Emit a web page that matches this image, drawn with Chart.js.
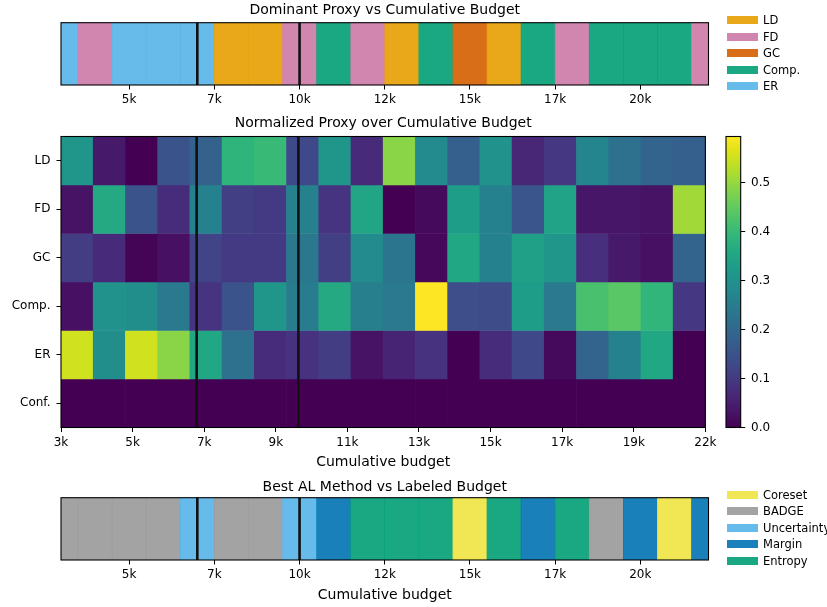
<!DOCTYPE html>
<html>
<head>
<meta charset="utf-8">
<script src="https://cdn.jsdelivr.net/npm/chart.js@4.4.1/dist/chart.umd.min.js"></script>
<style>
  html, body { margin: 0; padding: 0; background: #fff; }
  #fig { position: relative; width: 827px; height: 607px; overflow: hidden; font-family: 'DejaVu Sans', sans-serif; }
  #fig canvas { position: absolute; }
  .lg-swatch { position: absolute; left: 727px; width: 31px; height: 8px; }
  .lg-text { position: absolute; left: 763px; font-size: 11.5px; line-height: 14px; color: #000; white-space: nowrap; }
</style>
</head>
<body>
<div id="fig">
  <canvas id="proxyStrip" width="720" height="112" style="left:0;top:0"></canvas>
  <canvas id="heat" width="720" height="365" style="left:0;top:110px"></canvas>
  <canvas id="cbar" width="127" height="365" style="left:700px;top:110px"></canvas>
  <canvas id="methodStrip" width="720" height="137" style="left:0;top:470px"></canvas>
  <div id="legendTop"></div>
  <div id="legendBottom"></div>
</div>
<script>
// ---- data ----
const rowNames = ['LD', 'FD', 'GC', 'Comp.', 'ER', 'Conf.'];

// normalized proxy per budget column (20 columns spanning 3k..22k)
const heatLD   = [0.31, 0.04, 0.00, 0.15, 0.185, 0.385, 0.40, 0.13, 0.31, 0.07, 0.49, 0.28, 0.18, 0.30, 0.065, 0.095, 0.27, 0.22, 0.19, 0.18];
const heatFD   = [0.03, 0.36, 0.15, 0.075, 0.26, 0.11, 0.10, 0.26, 0.09, 0.35, 0.00, 0.015, 0.33, 0.26, 0.155, 0.345, 0.035, 0.035, 0.03, 0.51];
const heatGC   = [0.105, 0.07, 0.006, 0.025, 0.12, 0.10, 0.10, 0.235, 0.11, 0.28, 0.23, 0.012, 0.355, 0.26, 0.34, 0.31, 0.08, 0.04, 0.025, 0.19];
const heatComp = [0.025, 0.30, 0.29, 0.24, 0.09, 0.15, 0.31, 0.245, 0.36, 0.255, 0.24, 0.594, 0.14, 0.135, 0.33, 0.24, 0.42, 0.44, 0.39, 0.095];
const heatER   = [0.55, 0.29, 0.55, 0.49, 0.355, 0.22, 0.075, 0.085, 0.105, 0.03, 0.06, 0.085, 0.00, 0.075, 0.13, 0.015, 0.19, 0.26, 0.355, 0.00];
const heatConf = [0, 0, 0, 0, 0, 0, 0, 0, 0, 0, 0, 0, 0, 0, 0, 0, 0, 0, 0, 0];
const heatRange = [3000, 22000];
const heatTickLabels = ['3k', '5k', '7k', '9k', '11k', '13k', '15k', '17k', '19k', '22k'];
const cbarTicks = [0.0, 0.1, 0.2, 0.3, 0.4, 0.5];

// strips: one entry per labeled budget
const stripBudgets = [3000, 4000, 5000, 6000, 7000, 8000, 9000, 10000, 11000, 12000,
                      13000, 14000, 15000, 16000, 17000, 18000, 19000, 20000, 21000, 22000];
const dominantProxy = ['ER', 'FD', 'ER', 'ER', 'ER', 'LD', 'LD', 'FD', 'Comp.', 'FD',
                       'LD', 'Comp.', 'GC', 'LD', 'Comp.', 'FD', 'Comp.', 'Comp.', 'Comp.', 'FD'];
const bestMethod = ['BADGE', 'BADGE', 'BADGE', 'BADGE', 'Uncertainty', 'BADGE', 'BADGE', 'Uncertainty', 'Margin', 'Entropy',
                    'Entropy', 'Entropy', 'Coreset', 'Entropy', 'Margin', 'Entropy', 'BADGE', 'Margin', 'Coreset', 'Margin'];
const stripRange = [3000, 22000];
const stripTickValues = [5000, 7500, 10000, 12500, 15000, 17500, 20000];
const stripTickLabels = ['5k', '7k', '10k', '12k', '15k', '17k', '20k'];
const markerBudgets = [7000, 10000];

const proxyNames = ['LD', 'FD', 'GC', 'Comp.', 'ER'];
const proxyColors = {
  'LD': 'rgba(230,159,0,0.9)', 'FD': 'rgba(204,121,167,0.9)', 'GC': 'rgba(213,94,0,0.9)',
  'Comp.': 'rgba(0,158,115,0.9)', 'ER': 'rgba(86,180,233,0.9)'
};
const methodNames = ['Coreset', 'BADGE', 'Uncertainty', 'Margin', 'Entropy'];
const methodColors = {
  'Coreset': 'rgba(240,228,66,0.9)', 'BADGE': 'rgba(153,153,153,0.9)', 'Uncertainty': 'rgba(86,180,233,0.9)',
  'Margin': 'rgba(0,114,178,0.9)', 'Entropy': 'rgba(0,158,115,0.9)'
};

// ---- colour map ----
const VIRIDIS = ['#440154', '#471365', '#482475', '#463480', '#414487', '#3b528b', '#355f8d', '#2f6c8e',
                 '#2a788e', '#25848e', '#21918c', '#1e9c89', '#22a884', '#2fb47c', '#44bf70', '#5ec962',
                 '#7ad151', '#9bd93c', '#bddf26', '#dfe318', '#fde725'];
function hexRgb(h) { return [1, 3, 5].map(i => parseInt(h.slice(i, i + 2), 16)); }
function viridis(t) {
  t = Math.max(0, Math.min(1, t));
  const p = t * (VIRIDIS.length - 1);
  const i = Math.min(Math.floor(p), VIRIDIS.length - 2);
  const f = p - i;
  const a = hexRgb(VIRIDIS[i]), b = hexRgb(VIRIDIS[i + 1]);
  const c = a.map((v, k) => Math.round(v + (b[k] - v) * f));
  return `rgb(${c[0]},${c[1]},${c[2]})`;
}

// ---- chart defaults ----
Chart.defaults.font.family = "'DejaVu Sans', sans-serif";
Chart.defaults.color = '#000';
Chart.defaults.animation = false;
Chart.defaults.responsive = false;
Chart.defaults.devicePixelRatio = 1;
Chart.defaults.plugins.legend.display = false;
Chart.defaults.plugins.tooltip.enabled = false;

const TICK_FONT = { size: 12 };
const TITLE_FONT = { size: 14, weight: 'normal' };

// axes box plus vertical budget markers
const framePlugin = {
  id: 'frame',
  afterDatasetsDraw(chart, args, opts) {
    const { ctx, chartArea: a, scales } = chart;
    ctx.save();
    if (opts.markers) {
      ctx.strokeStyle = '#111';
      ctx.lineWidth = 2.6;
      opts.markers.forEach(v => {
        const x = scales.x.getPixelForValue(v);
        ctx.beginPath();
        ctx.moveTo(x, a.top);
        ctx.lineTo(x, a.bottom);
        ctx.stroke();
      });
    }
    ctx.strokeStyle = '#000';
    ctx.lineWidth = 1.1;
    ctx.strokeRect(a.left, a.top, a.right - a.left, a.bottom - a.top);
    ctx.restore();
  }
};

const PLOT_LEFT = 61, PLOT_RIGHT = 708.5;

function stripChart(id, title, cats, colors, geom) {
  const cv = document.getElementById(id);
  const xAxis = {
    type: 'linear', min: stripRange[0], max: stripRange[1], offset: false,
    afterBuildTicks: s => { s.ticks = stripTickValues.map(v => ({ value: v })); },
    ticks: { autoSkip: false, maxRotation: 0, font: TICK_FONT, padding: 3.5,
             callback: v => stripTickLabels[stripTickValues.indexOf(v)] },
    grid: { offset: false, drawOnChartArea: false, tickLength: 4.5, color: '#000' },
    border: { display: false },
    afterFit: s => { s.height = geom.axisH; }
  };
  if (geom.xTitle) {
    xAxis.title = { display: true, text: geom.xTitle, font: TITLE_FONT, padding: { top: 0, bottom: geom.xTitlePad } };
  }
  return new Chart(cv, {
    type: 'bar',
    data: {
      datasets: [{
        data: stripBudgets.map(b => ({ x: b, y: [0, 1] })),
        backgroundColor: cats.map(c => colors[c]),
        borderWidth: 0, grouped: false, barPercentage: 1, categoryPercentage: 1, clip: 0
      }]
    },
    options: {
      layout: { padding: { left: PLOT_LEFT, right: cv.width - PLOT_RIGHT, top: 0, bottom: 0 } },
      plugins: {
        title: { display: true, text: title, fullSize: false, font: TITLE_FONT, color: '#000',
                 padding: { top: geom.titleTop, bottom: geom.titleBottom } },
        frame: { markers: markerBudgets }
      },
      scales: { x: xAxis, y: { display: false, min: 0, max: 1 } }
    },
    plugins: [framePlugin]
  });
}

// ---- top strip ----
stripChart('proxyStrip', 'Dominant Proxy vs Cumulative Budget', dominantProxy, proxyColors,
           { axisH: 27, titleTop: 1.6, titleBottom: 4.3 });

// ---- heatmap ----
const heatRows = [heatLD, heatFD, heatGC, heatComp, heatER, heatConf];
const nCols = heatLD.length;
const colW = (heatRange[1] - heatRange[0]) / nCols;
const vmax = Math.max(...heatRows.flat());
const heatTickValues = heatTickLabels.map((_, i) => heatRange[0] + i * (heatRange[1] - heatRange[0]) / (heatTickLabels.length - 1));
const nRows = rowNames.length;

new Chart(document.getElementById('heat'), {
  type: 'bar',
  data: {
    datasets: heatRows.map((vals, r) => ({
      label: rowNames[r],
      data: vals.map((v, c) => ({ x: heatRange[0] + (c + 0.5) * colW, y: [nRows - 1 - r, nRows - r] })),
      backgroundColor: vals.map(v => viridis(v / vmax)),
      borderWidth: 0, grouped: false, barPercentage: 1, categoryPercentage: 1
    }))
  },
  options: {
    layout: { padding: { left: 0, right: 720 - PLOT_RIGHT, top: 0, bottom: 0 } },
    plugins: {
      title: { display: true, text: 'Normalized Proxy over Cumulative Budget', fullSize: false, font: TITLE_FONT,
               color: '#000', padding: { top: 5.1, bottom: 4.6 } },
      frame: { markers: markerBudgets }
    },
    scales: {
      x: {
        type: 'linear', min: heatRange[0], max: heatRange[1], offset: false,
        afterBuildTicks: s => { s.ticks = heatTickValues.map(v => ({ value: v })); },
        ticks: { autoSkip: false, maxRotation: 0, font: TICK_FONT, padding: 3.5,
                 callback: (v, i) => heatTickLabels[i] },
        grid: { offset: false, drawOnChartArea: false, tickLength: 4.5, color: '#000' },
        border: { display: false },
        title: { display: true, text: 'Cumulative budget', font: TITLE_FONT, padding: { top: 0, bottom: 4.6 } },
        afterFit: s => { s.height = 47.5; }
      },
      y: {
        type: 'linear', min: 0, max: nRows,
        afterBuildTicks: s => { s.ticks = rowNames.map((_, i) => ({ value: nRows - 0.5 - i })); },
        ticks: { autoSkip: false, font: TICK_FONT, padding: 6,
                 callback: v => rowNames[Math.round(nRows - 0.5 - v)] },
        grid: { drawOnChartArea: false, tickLength: 4.5, color: '#000' },
        border: { display: false },
        afterFit: s => { s.width = PLOT_LEFT; }
      }
    }
  },
  plugins: [framePlugin]
});

// ---- colour bar ----
new Chart(document.getElementById('cbar'), {
  type: 'bar',
  data: {
    labels: [''],
    datasets: [{
      data: [[0, vmax]],
      backgroundColor: c => {
        const ch = c.chart;
        if (!ch.chartArea) return VIRIDIS[0];
        const y = ch.scales.y;
        const g = ch.ctx.createLinearGradient(0, y.getPixelForValue(0), 0, y.getPixelForValue(vmax));
        VIRIDIS.forEach((col, i) => g.addColorStop(i / (VIRIDIS.length - 1), col));
        return g;
      },
      borderWidth: 0, barPercentage: 1, categoryPercentage: 1
    }]
  },
  options: {
    layout: { padding: { left: 26, right: 0, top: 26.5, bottom: 47.5 } },
    plugins: { frame: {} },
    scales: {
      x: { display: false },
      y: {
        position: 'right', min: 0, max: vmax,
        afterBuildTicks: s => { s.ticks = cbarTicks.map(v => ({ value: v })); },
        ticks: { autoSkip: false, font: TICK_FONT, padding: 5.8, callback: v => v.toFixed(1) },
        grid: { drawOnChartArea: false, tickLength: 4.5, color: '#000' },
        border: { display: false },
        afterFit: s => { s.width = 127 - 40.7; }
      }
    }
  },
  plugins: [framePlugin]
});

// ---- bottom strip ----
stripChart('methodStrip', 'Best AL Method vs Labeled Budget', bestMethod, methodColors,
           { axisH: 47, titleTop: 8.6, titleBottom: 2.3, xTitle: 'Cumulative budget', xTitlePad: 3.6 });

// ---- legends ----
function buildLegend(id, names, colors, centers) {
  const host = document.getElementById(id);
  names.forEach((n, i) => {
    const sw = document.createElement('div');
    sw.className = 'lg-swatch';
    sw.style.top = (centers[i] - 4) + 'px';
    sw.style.background = colors[n];
    host.appendChild(sw);
    const tx = document.createElement('div');
    tx.className = 'lg-text';
    tx.style.top = (centers[i] - 7) + 'px';
    tx.textContent = n;
    host.appendChild(tx);
  });
}
buildLegend('legendTop', proxyNames, proxyColors, [20, 36.6, 53.2, 69.8, 86.4]);
buildLegend('legendBottom', methodNames, methodColors, [495, 511.4, 527.8, 544.2, 560.6]);
</script>
</body>
</html>
